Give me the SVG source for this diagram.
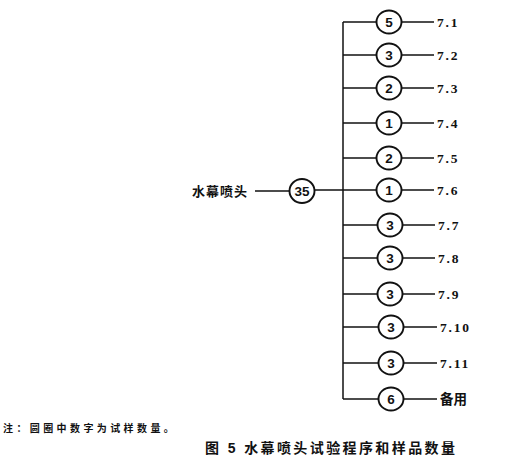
<svg xmlns="http://www.w3.org/2000/svg" width="510" height="465" viewBox="0 0 510 465">
<style>
.ln{stroke:#111;stroke-width:1.5;fill:none}
.cir{stroke:#111;stroke-width:1.9;fill:#fff}
.num{font-family:"Liberation Sans",Arial,sans-serif;font-size:13.5px;font-weight:bold;fill:#111;text-anchor:middle;dominant-baseline:central}
.lbl{font-family:"Liberation Serif","Times New Roman",serif;font-weight:bold;font-size:13.5px;fill:#111;letter-spacing:1.8px;dominant-baseline:central}
.cjk{font-family:"Liberation Sans","Noto Sans CJK SC",sans-serif;font-weight:bold;fill:#111;dominant-baseline:central}
</style>
<rect width="510" height="465" fill="#fff"/>
<g id="connectors">
<line class="ln" x1="255" y1="191" x2="290" y2="191"/>
<line class="ln" x1="314" y1="190" x2="343" y2="190"/>
<line class="ln" x1="343" y1="22" x2="343" y2="399"/>
<line class="ln" x1="343" y1="22" x2="377" y2="22"/>
<line class="ln" x1="343" y1="55" x2="377" y2="55"/>
<line class="ln" x1="343" y1="88" x2="377" y2="88"/>
<line class="ln" x1="343" y1="123" x2="377" y2="123"/>
<line class="ln" x1="343" y1="158" x2="377" y2="158"/>
<line class="ln" x1="343" y1="190" x2="377" y2="190"/>
<line class="ln" x1="343" y1="225" x2="378" y2="225"/>
<line class="ln" x1="343" y1="258" x2="378" y2="258"/>
<line class="ln" x1="343" y1="294" x2="378" y2="294"/>
<line class="ln" x1="343" y1="327" x2="379" y2="327"/>
<line class="ln" x1="343" y1="363" x2="379" y2="363"/>
<line class="ln" x1="343" y1="399" x2="379" y2="399"/>
<line class="ln" x1="401" y1="22" x2="434" y2="22"/>
<line class="ln" x1="401" y1="55" x2="434" y2="55"/>
<line class="ln" x1="401" y1="88" x2="434" y2="88"/>
<line class="ln" x1="401" y1="123" x2="434" y2="123"/>
<line class="ln" x1="401" y1="158" x2="434" y2="158"/>
<line class="ln" x1="401" y1="190" x2="434" y2="190"/>
<line class="ln" x1="402" y1="225" x2="435" y2="225"/>
<line class="ln" x1="402" y1="258" x2="435" y2="258"/>
<line class="ln" x1="402" y1="294" x2="435" y2="294"/>
<line class="ln" x1="403" y1="327" x2="437" y2="327"/>
<line class="ln" x1="403" y1="363" x2="437" y2="363"/>
<line class="ln" x1="403" y1="399" x2="437" y2="399"/>
</g>
<g id="root">
<text class="cjk" x="192" y="191" font-size="13" letter-spacing="1">水幕喷头</text>
<ellipse class="cir" cx="302" cy="191" rx="12.5" ry="12"/>
<text class="num" x="302" y="191">35</text>
</g>
<g id="n1"><ellipse class="cir" cx="389" cy="22" rx="12.5" ry="11.5"/><text class="num" x="389" y="22">5</text><text class="lbl" x="437" y="22">7.1</text></g>
<g id="n2"><ellipse class="cir" cx="389" cy="55" rx="12.5" ry="11.5"/><text class="num" x="389" y="55">3</text><text class="lbl" x="437" y="55">7.2</text></g>
<g id="n3"><ellipse class="cir" cx="389" cy="88" rx="12.5" ry="11.5"/><text class="num" x="389" y="88">2</text><text class="lbl" x="437" y="88">7.3</text></g>
<g id="n4"><ellipse class="cir" cx="389" cy="123" rx="12.5" ry="11.5"/><text class="num" x="389" y="123">1</text><text class="lbl" x="437" y="123">7.4</text></g>
<g id="n5"><ellipse class="cir" cx="389" cy="158" rx="12.5" ry="11.5"/><text class="num" x="389" y="158">2</text><text class="lbl" x="437" y="158">7.5</text></g>
<g id="n6"><ellipse class="cir" cx="389" cy="190" rx="12.5" ry="11.5"/><text class="num" x="389" y="190">1</text><text class="lbl" x="437" y="190">7.6</text></g>
<g id="n7"><ellipse class="cir" cx="390" cy="225" rx="12.5" ry="11.5"/><text class="num" x="390" y="225">3</text><text class="lbl" x="438" y="225">7.7</text></g>
<g id="n8"><ellipse class="cir" cx="390" cy="258" rx="12.5" ry="11.5"/><text class="num" x="390" y="258">3</text><text class="lbl" x="438" y="258">7.8</text></g>
<g id="n9"><ellipse class="cir" cx="390" cy="294" rx="12.5" ry="11.5"/><text class="num" x="390" y="294">3</text><text class="lbl" x="438" y="294">7.9</text></g>
<g id="n10"><ellipse class="cir" cx="391" cy="327" rx="12.5" ry="11.5"/><text class="num" x="391" y="327">3</text><text class="lbl" x="440" y="327">7.10</text></g>
<g id="n11"><ellipse class="cir" cx="391" cy="363" rx="12.5" ry="11.5"/><text class="num" x="391" y="363">3</text><text class="lbl" x="440" y="363">7.11</text></g>
<g id="n12"><ellipse class="cir" cx="391" cy="399" rx="12.5" ry="11.5"/><text class="num" x="391" y="399">6</text><text class="cjk" x="440" y="399" font-size="13.5">备用</text></g>
<g id="notes">
<text class="cjk" x="3" y="428" font-size="10" letter-spacing="3.4">注：圆圈中数字为试样数量。</text>
<text class="cjk" x="205" y="448" font-size="14" letter-spacing="2.4">图 5  水幕喷头试验程序和样品数量</text>
</g>
</svg>
